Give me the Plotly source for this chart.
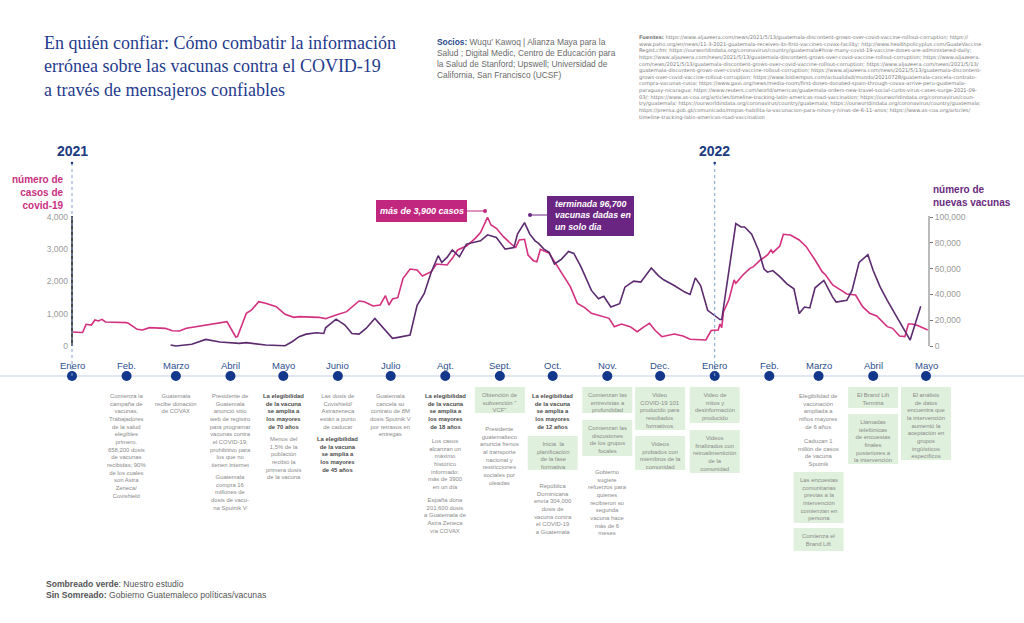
import datetime as dt
import plotly.graph_objects as go

W, H = 1024, 623

# ---------------- data ----------------
case_dates = ["2021-01-01", "2021-01-07", "2021-01-09", "2021-01-12", "2021-01-14", "2021-01-16", "2021-01-18",
              "2021-01-20", "2021-02-01", "2021-02-02", "2021-02-07", "2021-02-10", "2021-02-14", "2021-02-23",
              "2021-02-27", "2021-03-03", "2021-03-07", "2021-03-16", "2021-03-24", "2021-03-30", "2021-04-04",
              "2021-04-05", "2021-04-10", "2021-04-13", "2021-04-17", "2021-04-21", "2021-04-27", "2021-05-02",
              "2021-05-07", "2021-05-10", "2021-05-21", "2021-05-25", "2021-05-31", "2021-06-06", "2021-06-13",
              "2021-06-16", "2021-06-21", "2021-06-25", "2021-06-28", "2021-06-30", "2021-07-02", "2021-07-05",
              "2021-07-08", "2021-07-12", "2021-07-16", "2021-07-19", "2021-07-24", "2021-07-27", "2021-08-02",
              "2021-08-05", "2021-08-08", "2021-08-13", "2021-08-18", "2021-08-21", "2021-08-25", "2021-08-27",
              "2021-08-30", "2021-09-03", "2021-09-08", "2021-09-10", "2021-09-12", "2021-09-15", "2021-09-17",
              "2021-09-20", "2021-09-22", "2021-09-24", "2021-09-29", "2021-10-04", "2021-10-07", "2021-10-11",
              "2021-10-15", "2021-10-19", "2021-10-23", "2021-10-28", "2021-11-02", "2021-11-05", "2021-11-09",
              "2021-11-14", "2021-11-18", "2021-11-22", "2021-11-25", "2021-11-28", "2021-12-02", "2021-12-09",
              "2021-12-14", "2021-12-18", "2021-12-27", "2021-12-30", "2022-01-03", "2022-01-04", "2022-01-05",
              "2022-01-06", "2022-01-09", "2022-01-12", "2022-01-13", "2022-01-17", "2022-01-21", "2022-01-23",
              "2022-01-27", "2022-01-31", "2022-02-02", "2022-02-03", "2022-02-07", "2022-02-09", "2022-02-13",
              "2022-02-18", "2022-02-22", "2022-02-27", "2022-03-03", "2022-03-05", "2022-03-09", "2022-03-15",
              "2022-03-17", "2022-03-22", "2022-03-26", "2022-03-30", "2022-04-03", "2022-04-09", "2022-04-12",
              "2022-04-16", "2022-04-19", "2022-04-21", "2022-04-23", "2022-04-26", "2022-05-02"]
cases = [434, 420, 672, 650, 806, 775, 827,
         744, 724, 703, 517, 496, 568, 548,
         475, 465, 548, 620, 703, 755, 279,
         290, 1013, 1116, 1374, 1323, 1220, 982,
         889, 910, 889, 848, 961, 1065, 1395,
         1374, 1240, 1271, 1560, 1271, 1457, 1499,
         2098, 2388, 2357, 2171, 2305, 2543, 2512,
         2718, 2977, 3101, 3339, 3514, 3990, 3752,
         3649, 3390, 3132, 3060, 3287, 3308, 2822,
         2646, 2615, 2998, 2874, 2460, 2202, 1840,
         1323, 1200, 1013, 930, 858, 600, 682,
         600, 445, 600, 703, 496, 289, 372,
         310, 207, 186, 480, 496, 682, 572,
         1065, 1426, 2047, 1943, 2202, 2409, 2460,
         2667, 2822, 2977, 2894, 3101, 3463, 3442,
         3287, 3080, 2667, 2305, 2202, 1891, 1685,
         1612, 1581, 1220, 1013, 930, 600, 548,
         310, 290, 682, 682, 640, 496]

vac_dates = ["2021-02-26", "2021-03-01", "2021-03-10", "2021-03-18", "2021-03-26", "2021-04-06", "2021-04-10",
             "2021-04-21", "2021-05-02", "2021-05-06", "2021-05-10", "2021-05-14", "2021-05-20", "2021-05-24",
             "2021-05-25", "2021-05-31", "2021-06-05", "2021-06-09", "2021-06-13", "2021-06-17", "2021-06-22",
             "2021-06-26", "2021-07-02", "2021-07-06", "2021-07-12", "2021-07-16", "2021-07-20", "2021-07-24",
             "2021-07-28", "2021-07-30", "2021-08-02", "2021-08-05", "2021-08-09", "2021-08-13", "2021-08-21",
             "2021-08-25", "2021-08-30", "2021-09-04", "2021-09-09", "2021-09-11", "2021-09-15", "2021-09-18",
             "2021-09-21", "2021-09-23", "2021-09-26", "2021-09-29", "2021-10-02", "2021-10-06", "2021-10-10",
             "2021-10-13", "2021-10-17", "2021-10-23", "2021-10-27", "2021-10-30", "2021-11-03", "2021-11-08",
             "2021-11-11", "2021-11-16", "2021-11-20", "2021-11-26", "2021-11-30", "2021-12-03", "2021-12-09",
             "2021-12-15", "2021-12-18", "2021-12-21", "2021-12-24", "2021-12-28", "2021-12-31", "2022-01-04",
             "2022-01-05", "2022-01-13", "2022-01-16", "2022-01-18", "2022-01-22", "2022-01-26", "2022-01-29",
             "2022-01-31", "2022-02-03", "2022-02-07", "2022-02-11", "2022-02-15", "2022-02-18", "2022-02-21",
             "2022-02-24", "2022-02-27", "2022-03-04", "2022-03-09", "2022-03-11", "2022-03-17", "2022-03-20",
             "2022-03-24", "2022-03-29", "2022-04-01", "2022-04-05", "2022-04-09", "2022-04-22", "2022-04-28"]
vaccines = [770, 0, 1300, 5100, 3100, 2000, 2600,
            770, 200, 3300, 7200, 9200, 10300, 9700,
            14100, 20800, 16200, 9700, 9200, 13600, 21300,
            14900, 5900, 6900, 8500, 31500, 40500, 57200,
            70000, 64800, 68700, 74400, 69200, 79000, 81500,
            86200, 84100, 75100, 76400, 86700, 95600, 86700,
            81500, 79500, 75100, 72600, 63600, 67400, 73300,
            71800, 61500, 43100, 36700, 38500, 30200, 32800,
            45600, 50300, 49500, 60500, 54600, 51300, 46900,
            41800, 40000, 52800, 46900, 27700, 24600, 20500,
            20500, 94900, 92300, 92300, 86700, 73800, 59700,
            57200, 58500, 53800, 48200, 44400, 25100, 30200,
            29500, 45100, 50800, 37900, 34100, 35400, 43100,
            64800, 70800, 58500, 45600, 35400, 4600, 30800]

month_labels = ["Enero", "Feb.", "Marzo", "Abril", "Mayo", "Junio", "Julio", "Agt.", "Sept.",
                "Oct.", "Nov.", "Dec.", "Enero", "Feb.", "Marzo", "Abril", "Mayo"]
month_dates = ["2021-01-01", "2021-02-01", "2021-03-01", "2021-04-01", "2021-05-01", "2021-06-01",
               "2021-07-01", "2021-08-01", "2021-09-01", "2021-10-01", "2021-11-01", "2021-12-01",
               "2022-01-01", "2022-02-01", "2022-03-01", "2022-04-01", "2022-05-01"]

case_ticks = [0, 1000, 2000, 3000, 4000]
case_ticktext = ["0", "1,000", "2,000", "3,000", "4,000"]
vac_ticks = [0, 20000, 40000, 60000, 80000, 100000]
vac_ticktext = ["0", "20,000", "40,000", "60,000", "80,000", "100,000"]

# ---------------- colours / helpers ----------------
PINK = "#d3307f"
PURPLE = "#5c2a6e"
NAVY = "#1b3a80"
GREEN = "#dff0dc"
GRAY = "#8a8a8a"
SANS = "Liberation Sans"
EV_SIZE = 5.9


def X(px):
    return px / W


def Y(py):
    return 1 - py / H


# x: Jan 1 2021 at px 72, May 1 2022 at px 926
d0 = dt.datetime(2021, 1, 1)
d1 = dt.datetime(2022, 5, 1)
days = (d1 - d0).days
ppd = (926 - 72) / days
xr0 = d0 - dt.timedelta(days=72 / ppd)
xr1 = d1 + dt.timedelta(days=(W - 926) / ppd)

# y: 0 at py 346, 4000 at py 217
cpp = 4000 / (346 - 217)
yr = [-(H - 346) * cpp, 346 * cpp]

fig = go.Figure()
fig.add_trace(go.Scatter(x=case_dates, y=cases, mode="lines", line=dict(color=PINK, width=1.6),
                         yaxis="y", hoverinfo="skip", showlegend=False))
fig.add_trace(go.Scatter(x=vac_dates, y=vaccines, mode="lines", line=dict(color=PURPLE, width=1.6),
                         yaxis="y2", hoverinfo="skip", showlegend=False))

shapes = []
annotations = []

# timeline
shapes.append(dict(type="line", xref="paper", yref="paper", x0=0, x1=1, y0=Y(376), y1=Y(376),
                   line=dict(color="#c3cfe4", width=1)))
for md, ml in zip(month_dates, month_labels):
    shapes.append(dict(type="circle", xref="x", yref="paper", xsizemode="pixel", ysizemode="pixel",
                       xanchor=md, yanchor=Y(376), x0=-5, x1=5, y0=-5, y1=5,
                       fillcolor="#13378a", line=dict(width=0)))
    annotations.append(dict(x=md, y=Y(365), xref="x", yref="paper", text=ml, showarrow=False,
                            font=dict(family=SANS, size=9.5, color="#2d4f8e"), xanchor="center", yanchor="middle"))

# axis lines
shapes.append(dict(type="line", xref="paper", yref="paper", x0=X(72), x1=X(72), y0=Y(216), y1=Y(346),
                   line=dict(color="#4a4a4a", width=2)))
shapes.append(dict(type="line", xref="paper", yref="paper", x0=X(929), x1=X(929), y0=Y(216), y1=Y(346),
                   line=dict(color="#777777", width=1)))

# year markers
for yd, yl in [("2021-01-01", "2021"), ("2022-01-01", "2022")]:
    shapes.append(dict(type="line", xref="x", yref="paper", x0=yd, x1=yd, y0=Y(163), y1=Y(376),
                       line=dict(color="#7fa0cf", width=1, dash="dot")))
    shapes.append(dict(type="circle", xref="x", yref="paper", xsizemode="pixel", ysizemode="pixel",
                       xanchor=yd, yanchor=Y(163), x0=-1.3, x1=1.3, y0=-1.3, y1=1.3,
                       fillcolor="#1b3a80", line=dict(width=0)))
    annotations.append(dict(x=yd, y=Y(151), xref="x", yref="paper", text="<b>%s</b>" % yl, showarrow=False,
                            font=dict(family=SANS, size=14, color=NAVY), xanchor="center", yanchor="middle"))

# axis titles
annotations.append(dict(x=X(66), y=Y(172), xref="paper", yref="paper", xanchor="right", yanchor="top",
                        align="right", showarrow=False,
                        text="<b>número de<br>casos de<br>covid-19</b>",
                        font=dict(family=SANS, size=10, color="#c9307f")))
annotations.append(dict(x=X(931), y=Y(182), xref="paper", yref="paper", xanchor="left", yanchor="top",
                        align="left", showarrow=False,
                        text="<b>número de<br>nuevas vacunas</b>",
                        font=dict(family=SANS, size=10, color="#6b2a80")))

# callouts
shapes.append(dict(type="line", xref="paper", yref="paper", x0=X(467), x1=X(485), y0=Y(211), y1=Y(211),
                   line=dict(color="#c2277f", width=1)))
shapes.append(dict(type="circle", xref="paper", yref="paper", x0=X(483), x1=X(487), y0=Y(209), y1=Y(213),
                   fillcolor="#c2277f", line=dict(width=0)))
shapes.append(dict(type="rect", xref="paper", yref="paper", x0=X(376), x1=X(467), y0=Y(200), y1=Y(222),
                   fillcolor="#c2277f", line=dict(width=0)))
annotations.append(dict(x=X(421.5), y=Y(211), xref="paper", yref="paper", showarrow=False,
                        text="<b><i>más de 3,900 casos</i></b>", xanchor="center", yanchor="middle",
                        font=dict(family=SANS, size=9, color="white")))
shapes.append(dict(type="line", xref="paper", yref="paper", x0=X(530), x1=X(547), y0=Y(215), y1=Y(215),
                   line=dict(color="#6a2482", width=1)))
shapes.append(dict(type="circle", xref="paper", yref="paper", x0=X(528), x1=X(532), y0=Y(213), y1=Y(217),
                   fillcolor="#6a2482", line=dict(width=0)))
shapes.append(dict(type="rect", xref="paper", yref="paper", x0=X(547), x1=X(634), y0=Y(196), y1=Y(236),
                   fillcolor="#6a2482", line=dict(width=0)))
annotations.append(dict(x=X(553), y=Y(216), xref="paper", yref="paper", showarrow=False, align="left",
                        text="<b><i>terminada 96,700<br>vacunas dadas en<br>un solo dia</i></b>",
                        xanchor="left", yanchor="middle",
                        font=dict(family=SANS, size=8.8, color="white")))

# title & credits
annotations.append(dict(x=X(42), y=Y(31), xref="paper", yref="paper", xanchor="left", yanchor="top",
                        align="left", showarrow=False,
                        text="En quién confiar: Cómo combatir la información<br>"
                             "errónea sobre las vacunas contra el COVID-19<br>"
                             "a través de mensajeros confiables",
                        font=dict(family="Liberation Serif", size=18, color="#1f3b8d")))
annotations.append(dict(x=X(435), y=Y(35), xref="paper", yref="paper", xanchor="left", yanchor="top",
                        align="left", showarrow=False,
                        text="<span style='color:#2b4a8a'><b>Socios:</b></span> Wuqu’ Kawoq | Alianza Maya para la<br>"
                             "Salud ; Digital Medic, Centro de Educación para<br>"
                             "la Salud de Stanford; Upswell; Universidad de<br>"
                             "California, San Francisco (UCSF)",
                        font=dict(family=SANS, size=8.4, color="#6a6a6a")))
fuentes = ("<b>Fuentes:</b> https://www.aljazeera.com/news/2021/5/13/guatemala-discontent-grows-over-covid-vaccine-rollout-corruption; https://<br>"
           "www.paho.org/en/news/11-3-2021-guatemala-receives-its-first-vaccines-covax-facility; http://www.healthpolicyplus.com/GuateVaccine<br>"
           "Regist.cfm; https://ourworldindata.org/coronavirus/country/guatemala#how-many-covid-19-vaccine-doses-are-administered-daily;<br>"
           "https://www.aljazeera.com/news/2021/5/13/guatemala-discontent-grows-over-covid-vaccine-rollout-corruption; https://www.aljazeera.<br>"
           "com/news/2021/5/13/guatemala-discontent-grows-over-covid-vaccine-rollout-corruption; https://www.aljazeera.com/news/2021/5/13/<br>"
           "guatemala-discontent-grows-over-covid-vaccine-rollout-corruption; https://www.aljazeera.com/news/2021/5/13/guatemala-discontent-<br>"
           "grows-over-covid-vaccine-rollout-corruption; https://www.lostiempos.com/actualidad/mundo/20210728/guatemala-cancela-contrato-<br>"
           "compra-vacunas-rusia; https://www.gavi.org/news/media-room/first-doses-donated-spain-through-covax-arrive-peru-guatemala-<br>"
           "paraguay-nicaragua; https://www.reuters.com/world/americas/guatemala-orders-new-travel-social-curbs-virus-cases-surge-2021-09-<br>"
           "03/; https://www.as-coa.org/articles/timeline-tracking-latin-americas-road-vaccination; https://ourworldindata.org/coronavirus/coun-<br>"
           "try/guatemala; https://ourworldindata.org/coronavirus/country/guatemala; https://ourworldindata.org/coronavirus/country/guatemala;<br>"
           "https://prensa.gob.gt/comunicado/mspas-habilita-la-vacunacion-para-ninos-y-ninas-de-6-11-anos; https://www.as-coa.org/articles/<br>"
           "timeline-tracking-latin-americas-road-vaccination")
annotations.append(dict(x=X(637), y=Y(32), xref="paper", yref="paper", xanchor="left", yanchor="top",
                        align="left", showarrow=False, text=fuentes,
                        font=dict(family="DejaVu Sans", size=5.1, color="#7a7a7a")))

# footer
annotations.append(dict(x=X(44), y=Y(577), xref="paper", yref="paper", xanchor="left", yanchor="top",
                        align="left", showarrow=False,
                        text="<b>Sombreado verde</b>: Nuestro estudio<br><b>Sin Somreado:</b> Gobierno Guatemaleco políticas/vacunas",
                        font=dict(family=SANS, size=8.6, color="#555555")))

# ---------------- timeline events ----------------
plain_events = [
    (1, 391, "Comienza la<br>campaña de<br>vacunas,<br>Trabajadores<br>de la salud<br>elegibles<br>primero.<br>658,200 dosis<br>de vacunas<br>recibidas; 90%<br>de los cuales<br>son Astra<br>Zeneca/<br>Covishield", False),
    (2, 391, "Guatemala<br>recibe donación<br>de COVAX", False),
    (3, 391, "Presidente de<br>Guatemala<br>anunció sitio<br>web de registro<br>para programar<br>vacunas contra<br>el COVID-19;<br>prohibitivo para<br>los que no<br>tienen internet", False),
    (3, 472, "Guatemala<br>compra 16<br>millones de<br>dosis de vacu-<br>na Sputnik V", False),
    (4, 391, "La elegibilidad<br>de la vacuna<br>se amplia a<br>los mayores<br>de 70 años", True),
    (4, 434, "Menos del<br>1,5% de la<br>población<br>recibió la<br>primera dosis<br>de la vacuna", False),
    (5, 391, "Las dosis de<br>Covishield/<br>Astrazeneca<br>están a punto<br>de caducar", False),
    (5, 434, "La elegibilidad<br>de la vacuna<br>se amplia a<br>los mayores<br>de 45 años", True),
    (6, 391, "Guatemala<br>cancela su<br>contrato de 8M<br>dosis Sputnik V<br>por retrasos en<br>entregas", False),
    (7, 391, "La elegibilidad<br>de la vacuna<br>se amplia a<br>los mayores<br>de 18 años", True),
    (7, 436, "Los casos<br>alcanzan un<br>máximo<br>histórico<br>informado:<br>más de 3900<br>en un día", False),
    (7, 495, "España dona<br>201,600 dosis<br>a Guatemala de<br>Astra Zeneca<br>vía COVAX", False),
    (8, 424, "Presidente<br>guatemalteco<br>anuncia frenos<br>al transporte<br>nacional y<br>restricciones<br>sociales por<br>oleadas", False),
    (9, 391, "La elegibilidad<br>de la vacuna<br>se amplia a<br>los mayores<br>de 12 años", True),
    (9, 481, "República<br>Dominicana<br>envía 304,000<br>dosis de<br>vacuna contra<br>el COVID-19<br>a Guatemala", False),
    (10, 467, "Gobierno<br>sugiere<br>refuerzos para<br>quienes<br>recibieron su<br>segunda<br>vacuna hace<br>más de 6<br>meses", False),
    (14, 391, "Elegibilidad de<br>vacunación<br>ampliada a<br>niños mayores<br>de 6 años", False),
    (14, 436, "Caducan 1<br>millón de casos<br>de vacuna<br>Sputnik", False),
]
green_events = [
    (8, 387, 413, "Obtención de<br>subvención \"<br>VCF\""),
    (9, 436, 470, "Inicia  la<br>planificación<br>de la fase<br>formativa"),
    (10, 387, 413, "Comienzan las<br>entrevistas a<br>profundidad"),
    (10, 420, 456, "Comienzan las<br>discusiones<br>de los grupos<br>focales"),
    (11, 387, 430, "Video<br>COVID-19 101<br>producido para<br>resultados<br>formativos"),
    (11, 436, 470, "Videos<br>probados con<br>miembros de la<br>comunidad"),
    (12, 387, 423, "Video de<br>mitos y<br>desinformación<br>producido"),
    (12, 430, 473, "Videos<br>finalizados con<br>retroalimentición<br>de la<br>comunidad"),
    (14, 472, 523, "Las encuestas<br>comunitarias<br>previas a la<br>intervención<br>comienzan en<br>persona"),
    (14, 528, 551, "Comienza el<br>Brand Lift"),
    (15, 387, 408, "El Brand Lift<br>Termina"),
    (15, 414, 464, "Llamadas<br>telefónicas<br>de encuestas<br>finales<br>posteriores a<br>la intervención"),
    (16, 387, 460, "El análisis<br>de datos<br>encuentra que<br>la intervención<br>aumentó la<br>aceptación en<br>grupos<br>ingüísticos<br>específicos"),
]

for mi, top, txt, bold in plain_events:
    annotations.append(dict(x=month_dates[mi], y=Y(top), xref="x", yref="paper", xanchor="center", yanchor="top",
                            align="center", showarrow=False,
                            text=("<b>%s</b>" % txt) if bold else txt,
                            font=dict(family=SANS, size=EV_SIZE, color="#4a4a4a" if bold else GRAY)))
for mi, top, bot, txt in green_events:
    shapes.append(dict(type="rect", xref="x", yref="paper", xsizemode="pixel", xanchor=month_dates[mi],
                       x0=-25, x1=25, y0=Y(top), y1=Y(bot), fillcolor=GREEN, line=dict(width=0), layer="below"))
    annotations.append(dict(x=month_dates[mi], y=Y(top + 3), xref="x", yref="paper", xanchor="center",
                            yanchor="top", align="center", showarrow=False, text=txt,
                            font=dict(family=SANS, size=EV_SIZE, color=GRAY)))

fig.update_layout(
    width=W, height=H, margin=dict(l=0, r=0, t=0, b=0), autosize=False,
    template="none", paper_bgcolor="white", plot_bgcolor="rgba(0,0,0,0)",
    showlegend=False,
    xaxis=dict(type="date", range=[xr0.isoformat(), xr1.isoformat()], domain=[0, 1],
               visible=False, fixedrange=True),
    yaxis=dict(range=yr, domain=[0, 1], anchor="free", position=X(72), side="left",
               tickvals=case_ticks, ticktext=case_ticktext, ticks="", showgrid=False, zeroline=False,
               showline=False, tickfont=dict(family=SANS, size=8.5, color="#9a9a9a"), automargin=False,
               ticklabelstandoff=4),
    yaxis2=dict(range=[v * 25 for v in yr], overlaying="y", anchor="free", position=X(929), side="right",
                tickvals=vac_ticks, ticktext=vac_ticktext, ticks="outside", ticklen=3, tickcolor="#777777",
                showgrid=False, zeroline=False, showline=False,
                tickfont=dict(family=SANS, size=8.5, color="#9a9a9a"), automargin=False),
    shapes=shapes, annotations=annotations,
)

fig.write_html("out.html", config={"displayModeBar": False},
               post_script="document.body.style.margin='0';document.body.style.overflow='hidden';")
